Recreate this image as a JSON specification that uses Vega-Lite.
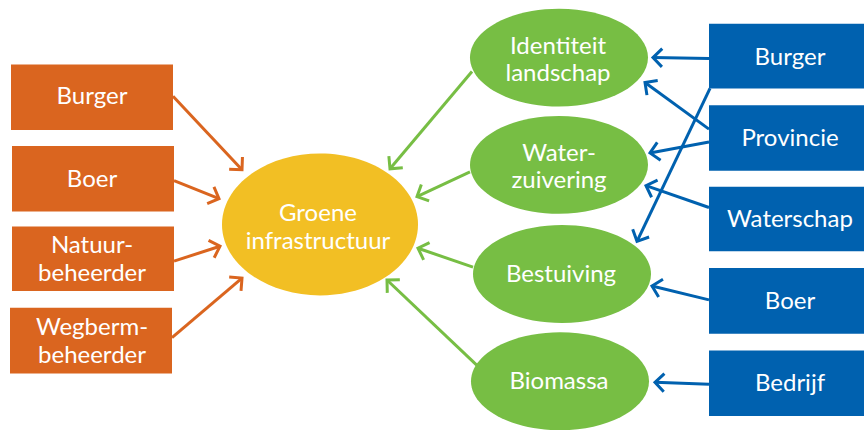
{
  "$schema": "https://vega.github.io/schema/vega-lite/v6.json",
  "width": 864,
  "height": 430,
  "padding": 0,
  "autosize": {"type": "fit", "contains": "padding"},
  "background": "white",
  "config": {"view": {"stroke": null}},
  "datasets": {
    "boxes": [
      {"label": "Burger", "kind": "Actor", "x": 11, "x2": 173, "y": 65, "y2": 131, "cx": 92, "cy": 98},
      {"label": "Boer", "kind": "Actor", "x": 12, "x2": 174, "y": 147, "y2": 213, "cx": 92, "cy": 181},
      {"label": "Natuur-\nbeheerder", "kind": "Actor", "x": 12, "x2": 174, "y": 228, "y2": 293, "cx": 92, "cy": 248},
      {"label": "Wegberm-\nbeheerder", "kind": "Actor", "x": 10, "x2": 172, "y": 310, "y2": 376, "cx": 92, "cy": 330},
      {"label": "Burger", "kind": "Belanghebbende", "x": 709, "x2": 864, "y": 24, "y2": 89, "cx": 790, "cy": 58},
      {"label": "Provincie", "kind": "Belanghebbende", "x": 709, "x2": 864, "y": 106, "y2": 172, "cx": 790, "cy": 140},
      {"label": "Waterschap", "kind": "Belanghebbende", "x": 709, "x2": 864, "y": 188, "y2": 253, "cx": 790, "cy": 222},
      {"label": "Boer", "kind": "Belanghebbende", "x": 709, "x2": 864, "y": 270, "y2": 336, "cx": 790, "cy": 304},
      {"label": "Bedrijf", "kind": "Belanghebbende", "x": 709, "x2": 864, "y": 353, "y2": 419, "cx": 790, "cy": 387}
    ],
    "hub": [
      {"label": "Groene\ninfrastructuur", "kind": "Infrastructuur", "x": 320, "y": 226, "cx": 318, "cy": 215}
    ],
    "services": [
      {"label": "Identiteit\nlandschap", "kind": "Dienst", "x": 559, "y": 58, "cx": 558, "cy": 47},
      {"label": "Water-\nzuivering", "kind": "Dienst", "x": 559, "y": 166, "cx": 559, "cy": 155},
      {"label": "Bestuiving", "kind": "Dienst", "x": 562, "y": 276, "cx": 561, "cy": 277},
      {"label": "Biomassa", "kind": "Dienst", "x": 560, "y": 384, "cx": 559, "cy": 385}
    ],
    "arrows": [
      {"from": "Burger", "to": "Groene infrastructuur", "kind": "Actor", "x": 173, "y": 97, "x2": 242, "y2": 171},
      {"from": "Boer", "to": "Groene infrastructuur", "kind": "Actor", "x": 174, "y": 182, "x2": 219, "y2": 200},
      {"from": "Natuurbeheerder", "to": "Groene infrastructuur", "kind": "Actor", "x": 174, "y": 263, "x2": 220, "y2": 248},
      {"from": "Wegbermbeheerder", "to": "Groene infrastructuur", "kind": "Actor", "x": 172, "y": 340, "x2": 242, "y2": 280},
      {"from": "Identiteit landschap", "to": "Groene infrastructuur", "kind": "Dienst", "x": 472, "y": 72, "x2": 390, "y2": 170},
      {"from": "Waterzuivering", "to": "Groene infrastructuur", "kind": "Dienst", "x": 470, "y": 173, "x2": 417, "y2": 198},
      {"from": "Bestuiving", "to": "Groene infrastructuur", "kind": "Dienst", "x": 473, "y": 269, "x2": 418, "y2": 250},
      {"from": "Biomassa", "to": "Groene infrastructuur", "kind": "Dienst", "x": 477, "y": 368, "x2": 387, "y2": 282},
      {"from": "Burger", "to": "Identiteit landschap", "kind": "Belanghebbende", "x": 709, "y": 59, "x2": 653, "y2": 58},
      {"from": "Provincie", "to": "Identiteit landschap", "kind": "Belanghebbende", "x": 709, "y": 130, "x2": 645, "y2": 83},
      {"from": "Provincie", "to": "Waterzuivering", "kind": "Belanghebbende", "x": 709, "y": 143, "x2": 650, "y2": 154},
      {"from": "Waterschap", "to": "Waterzuivering", "kind": "Belanghebbende", "x": 709, "y": 209, "x2": 646, "y2": 187},
      {"from": "Burger", "to": "Bestuiving", "kind": "Belanghebbende", "x": 710, "y": 89, "x2": 637, "y2": 243},
      {"from": "Boer", "to": "Bestuiving", "kind": "Belanghebbende", "x": 709, "y": 302, "x2": 652, "y2": 288},
      {"from": "Bedrijf", "to": "Biomassa", "kind": "Belanghebbende", "x": 709, "y": 387, "x2": 655, "y2": 385}
    ]
  },
  "encoding": {
    "color": {
      "field": "kind", "type": "nominal", "legend": null,
      "scale": {"domain": ["Actor", "Infrastructuur", "Dienst", "Belanghebbende"], "range": ["#DA651F", "#F2BF24", "#77BE44", "#0061AF"]}
    }
  },
  "layer": [
    {
      "data": {"name": "arrows"},
      "mark": {"type": "rule", "strokeWidth": 3},
      "encoding": {
        "x": {"field": "x", "type": "quantitative", "scale": {"domain": [0, 864], "nice": false, "zero": false}, "axis": null},
        "y": {"field": "y", "type": "quantitative", "scale": {"domain": [0, 430], "nice": false, "zero": false, "reverse": true}, "axis": null},
        "x2": {"field": "x2"},
        "y2": {"field": "y2"}
      }
    },
    {
      "data": {"name": "boxes"},
      "mark": {"type": "rect"},
      "encoding": {
        "x": {"field": "x", "type": "quantitative"},
        "x2": {"field": "x2"},
        "y": {"field": "y", "type": "quantitative"},
        "y2": {"field": "y2"}
      }
    },
    {
      "data": {"name": "hub"},
      "mark": {"type": "point", "filled": true, "opacity": 1, "strokeWidth": 0, "size": 38416, "shape": "M-1,0A1,0.724,0,1,1,1,0A1,0.724,0,1,1,-1,0Z"},
      "encoding": {
        "x": {"field": "x", "type": "quantitative"},
        "y": {"field": "y", "type": "quantitative"}
      }
    },
    {
      "data": {"name": "services"},
      "mark": {"type": "point", "filled": true, "opacity": 1, "strokeWidth": 0, "size": 31684, "shape": "M-1,0A1,0.55,0,1,1,1,0A1,0.55,0,1,1,-1,0Z"},
      "encoding": {
        "x": {"field": "x", "type": "quantitative"},
        "y": {"field": "y", "type": "quantitative"}
      }
    },
    {
      "data": {"name": "arrows"},
      "transform": [{"calculate": "atan2(datum.y2 - datum.y, datum.x2 - datum.x) * 180 / PI", "as": "heading"}],
      "mark": {"type": "point", "filled": false, "opacity": 1, "strokeWidth": 3, "size": 330, "shape": "M-1,-1L0,0L-1,1", "strokeJoin": "miter"},
      "encoding": {
        "x": {"field": "x2", "type": "quantitative"},
        "y": {"field": "y2", "type": "quantitative"},
        "angle": {"field": "heading", "type": "quantitative", "scale": null}
      }
    },
    {
      "data": {"name": "boxes"},
      "mark": {"type": "text", "font": "Lato", "fontSize": 24, "lineHeight": 28, "lineBreak": "\n", "align": "center", "baseline": "middle"},
      "encoding": {
        "x": {"field": "cx", "type": "quantitative"},
        "y": {"field": "cy", "type": "quantitative"},
        "text": {"field": "label"},
        "color": {"value": "white"}
      }
    },
    {
      "data": {"name": "hub"},
      "mark": {"type": "text", "font": "Lato", "fontSize": 24, "lineHeight": 28, "lineBreak": "\n", "align": "center", "baseline": "middle"},
      "encoding": {
        "x": {"field": "cx", "type": "quantitative"},
        "y": {"field": "cy", "type": "quantitative"},
        "text": {"field": "label"},
        "color": {"value": "white"}
      }
    },
    {
      "data": {"name": "services"},
      "mark": {"type": "text", "font": "Lato", "fontSize": 24, "lineHeight": 27, "lineBreak": "\n", "align": "center", "baseline": "middle"},
      "encoding": {
        "x": {"field": "cx", "type": "quantitative"},
        "y": {"field": "cy", "type": "quantitative"},
        "text": {"field": "label"},
        "color": {"value": "white"}
      }
    }
  ]
}
